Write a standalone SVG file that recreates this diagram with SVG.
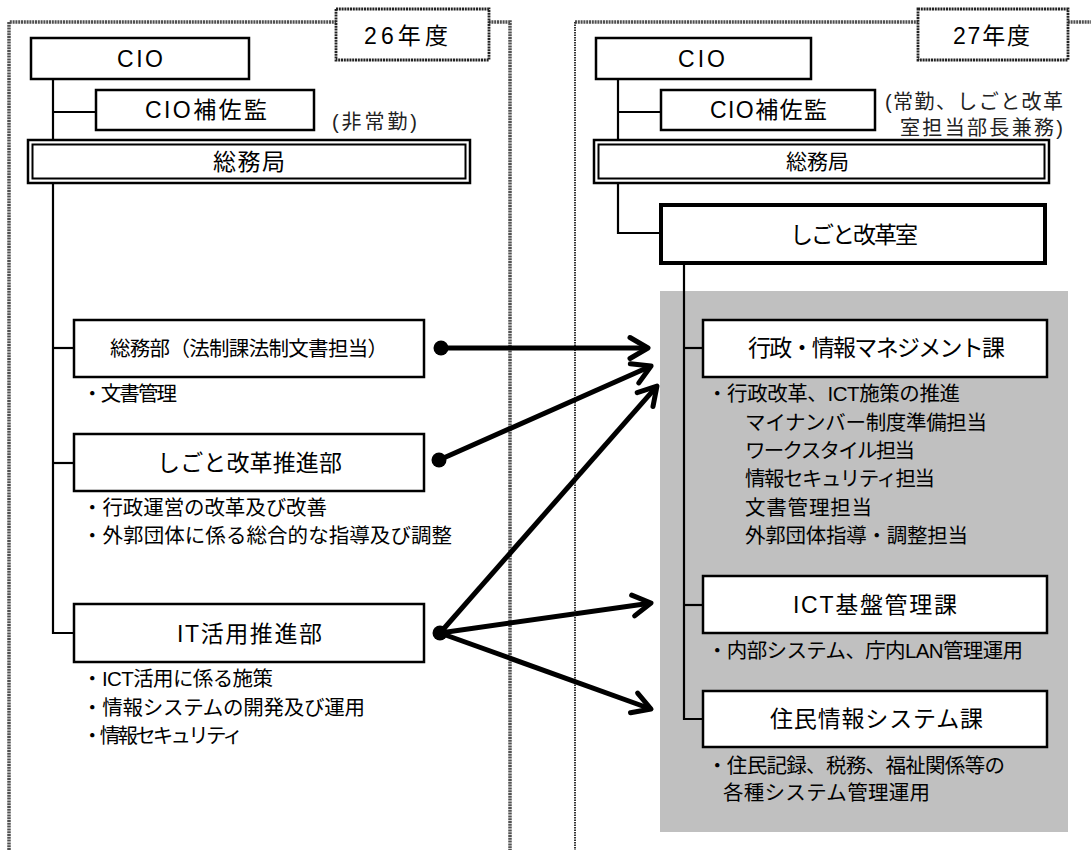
<svg xmlns="http://www.w3.org/2000/svg" width="1091" height="850" viewBox="0 0 1091 850">
<defs>
<style>
text{font-family:"Liberation Sans","Noto Sans CJK JP",sans-serif;fill:#000}
.lbl{font-size:23px}
.b{font-size:20.5px}
.note{font-size:20px;fill:#222}
.box{fill:#fff;stroke:#000;stroke-width:2.5}
.thick{fill:#fff;stroke:#000;stroke-width:4}
.tree{fill:none;stroke:#000;stroke-width:2.2}
.frame{fill:none;stroke:#505050;stroke-width:3.5;stroke-dasharray:2 0.8}
.tag{fill:#fff;stroke:#222;stroke-width:2.8;stroke-dasharray:2 0.8}
.arr{fill:none;stroke:#000;stroke-width:5;marker-end:url(#ah)}
</style>
<marker id="ah" markerUnits="userSpaceOnUse" markerWidth="40" markerHeight="40" viewBox="-30 -20 40 40" refX="-3" refY="0" orient="auto" overflow="visible">
<path d="M-18,-10.5 L0,0 L-18,10.5" fill="none" stroke="#000" stroke-width="5" stroke-linecap="round" stroke-linejoin="round"/>
</marker>
</defs>
<rect width="1091" height="850" fill="#fff"/>

<g id="frames">
<path class="frame" d="M9,850 V22 H510 V850"/>
<path class="frame" d="M575,22 H1091"/>
<path d="M575,22 V850" fill="none" stroke="#333" stroke-width="2" stroke-dasharray="1.5 1"/>
</g>

<g id="gray-area"><rect x="660" y="291" width="408" height="541" fill="#c0c0c0"/></g>

<g id="connectors">
<path class="tree" d="M53,79 V140"/>
<path class="tree" d="M53,112 H96"/>
<path class="tree" d="M53,183 V633 H74"/>
<path class="tree" d="M53,348 H74"/>
<path class="tree" d="M53,463 H74"/>
<path class="tree" d="M618,79 V140"/>
<path class="tree" d="M618,112 H661"/>
<path class="tree" d="M618,183 V233 H661"/>
<path class="tree" d="M684,263 V719 H703"/>
<path class="tree" d="M684,348 H703"/>
<path class="tree" d="M684,605 H703"/>
<line class="arr" x1="441" y1="348" x2="645" y2="348"/>
<line class="arr" x1="439" y1="460" x2="648.3" y2="367.2"/>
<line class="arr" x1="440" y1="633" x2="655" y2="388.3"/>
<line class="arr" x1="440" y1="633" x2="648" y2="603.4"/>
<line class="arr" x1="440" y1="633" x2="648.2" y2="708"/>
<circle cx="441" cy="348" r="7.5"/>
<circle cx="439" cy="460" r="7.5"/>
<circle cx="440" cy="633" r="7.5"/>
</g>

<g id="tag26"><rect class="tag" x="336" y="9" width="153" height="51"/><text class="lbl" x="364" y="44" textLength="84">26年度</text></g>
<g id="tag27"><rect class="tag" x="918" y="9" width="150" height="51"/><text class="lbl" x="953" y="44" textLength="77">27年度</text></g>

<g id="l-cio"><rect class="box" x="31" y="38" width="218" height="41"/><text class="lbl" x="117" y="67" textLength="46">CIO</text></g>
<g id="l-hosa"><rect class="box" x="96" y="90" width="218" height="40"/><text class="lbl" x="145" y="118" textLength="122">CIO補佐監</text><text class="note" x="332" y="129" textLength="85">(非常勤)</text></g>
<g id="l-somu"><rect x="28" y="140" width="442" height="43" fill="#fff" stroke="#000" stroke-width="2.5"/><rect x="32.5" y="144.5" width="433" height="34" fill="none" stroke="#000" stroke-width="2"/><text class="lbl" x="213" y="170" textLength="72">総務局</text></g>

<g id="l-somubu"><rect class="box" x="74" y="320" width="350" height="57"/><text class="b" x="110" y="356" textLength="278">総務部（法制課法制文書担当）</text><text class="b" x="82" y="401" textLength="95">・文書管理</text></g>
<g id="l-shigoto"><rect class="box" x="74" y="434" width="350" height="57"/><text class="lbl" x="157" y="471" textLength="185">しごと改革推進部</text><text class="b" x="82" y="515" textLength="245">・行政運営の改革及び改善</text><text class="b" x="82" y="543" textLength="370">・外郭団体に係る総合的な指導及び調整</text></g>
<g id="l-it"><rect class="box" x="74" y="604" width="350" height="58"/><text class="lbl" x="177" y="642" textLength="145">IT活用推進部</text><text class="b" x="82" y="686" textLength="191">・ICT活用に係る施策</text><text class="b" x="82" y="715" textLength="283">・情報システムの開発及び運用</text><text class="b" x="82" y="743" textLength="161">・情報セキュリティ</text></g>

<g id="r-cio"><rect class="box" x="596" y="38" width="215" height="41"/><text class="lbl" x="678" y="67" textLength="47">CIO</text></g>
<g id="r-hosa"><rect class="box" x="661" y="90" width="214" height="40"/><text class="lbl" x="710" y="118" textLength="117">CIO補佐監</text><text class="note" x="885" y="109" textLength="178">(常勤、しごと改革</text><text class="note" x="900" y="135" textLength="163">室担当部長兼務)</text></g>
<g id="r-somu"><rect x="594" y="140" width="455" height="43" fill="#fff" stroke="#000" stroke-width="2.5"/><rect x="598.5" y="144.5" width="446" height="34" fill="none" stroke="#000" stroke-width="2"/><text x="786" y="169" style="font-size:21px">総務局</text></g>
<g id="r-shigoto"><rect class="thick" x="661" y="205" width="384" height="58"/><text class="lbl" x="790" y="243" textLength="128">しごと改革室</text></g>

<g id="r-gyosei"><rect class="box" x="703" y="320" width="344" height="57"/><text class="lbl" x="748" y="356" textLength="257">行政・情報マネジメント課</text>
<text class="b" x="707" y="401" textLength="253">・行政改革、ICT施策の推進</text>
<text class="b" x="745" y="430" textLength="242">マイナンバー制度準備担当</text>
<text class="b" x="745" y="458" textLength="170">ワークスタイル担当</text>
<text class="b" x="745" y="486" textLength="190">情報セキュリティ担当</text>
<text class="b" x="745" y="515" textLength="127">文書管理担当</text>
<text class="b" x="745" y="543" textLength="223">外郭団体指導・調整担当</text></g>
<g id="r-ict"><rect class="box" x="703" y="576" width="344" height="57"/><text class="lbl" x="793" y="613" textLength="164">ICT基盤管理課</text><text class="b" x="707" y="658" textLength="316">・内部システム、庁内LAN管理運用</text></g>
<g id="r-jumin"><rect class="box" x="703" y="691" width="344" height="56"/><text class="lbl" x="770" y="727" textLength="213">住民情報システム課</text><text class="b" x="707" y="773" textLength="298">・住民記録、税務、福祉関係等の</text><text class="b" x="723" y="800" textLength="207">各種システム管理運用</text></g>
</svg>
